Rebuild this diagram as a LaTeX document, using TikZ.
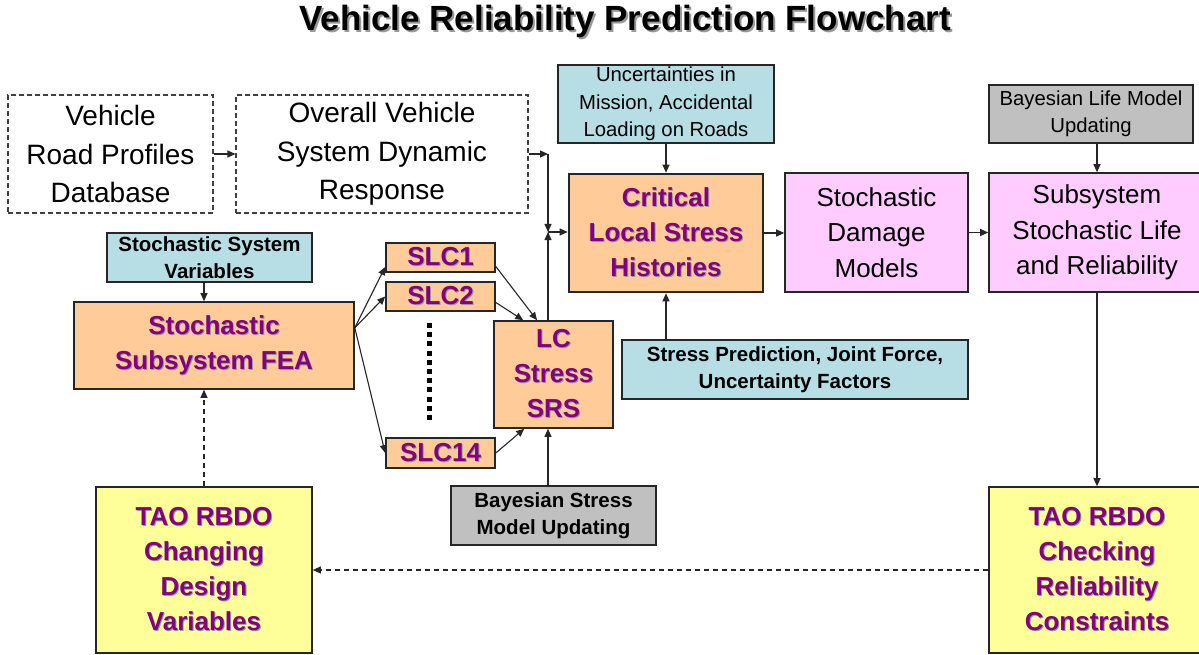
\documentclass[tikz,border=0pt]{standalone}
\usepackage{fontspec}
\setmainfont{Liberation Sans}
\usetikzlibrary{arrows.meta,calc}
\definecolor{peach}{RGB}{255,204,153}
\definecolor{cyanbox}{RGB}{183,222,228}
\definecolor{pinkbox}{RGB}{255,204,255}
\definecolor{graybox}{RGB}{192,192,192}
\definecolor{yellowbox}{RGB}{255,255,153}
\definecolor{purp}{RGB}{128,0,128}
\newcommand\shd[1]{\makebox[0pt][l]{\hspace{1pt}\raisebox{-1pt}{\textcolor{black!40}{#1}}}#1}
\newcommand\tshd[1]{\makebox[0pt][l]{\hspace{2pt}\raisebox{-2pt}{\textcolor{black!40}{#1}}}#1}
\tikzset{
  box/.style={draw=black!85, line width=1.6pt, align=center, inner sep=0pt},
  dbox/.style={draw=black!75, line width=1.1pt, dash pattern=on 5pt off 3pt, align=center, inner sep=0pt},
  arr/.style={-{Triangle[length=8pt,width=7pt]}, line width=1.1pt, draw=black!85},
  darr/.style={arr, dash pattern=on 5pt off 4pt},
  bigreg/.style={font=\fontsize{28}{38.5}\selectfont},
  midreg/.style={font=\fontsize{26}{35.5}\selectfont},
  smallreg/.style={font=\fontsize{20.3}{27.5}\selectfont},
  smallbold/.style={font=\fontsize{20.5}{27}\selectfont\bfseries},
  purptext/.style={text=purp, font=\fontsize{26}{35}\selectfont\bfseries},
}
\begin{document}
\begin{tikzpicture}[x=1pt,y=-1pt]
\fill[white] (0,0) rectangle (1199,655);
\useasboundingbox (0,0) rectangle (1199,655);

% title
\node[font=\fontsize{35}{40}\selectfont\bfseries, inner sep=0pt] (title) at (625,22) {\tshd{Vehicle Reliability Prediction Flowchart}};

% top dashed boxes
\node[dbox, bigreg, minimum width=205pt, minimum height=118pt] (vrp) at (110.5,154) {Vehicle\\Road Profiles\\Database};
\node[dbox, bigreg, minimum width=292pt, minimum height=118pt] (ovs) at (382,154) {Overall Vehicle\\System Dynamic\\Response};

% uncertainties
\node[box, fill=cyanbox, smallreg, minimum width=216pt, minimum height=78pt] (unc) at (666,104) {Uncertainties in\\Mission, Accidental\\Loading on Roads};

% critical
\node[box, fill=peach, purptext, line width=2.6pt, minimum width=194pt, minimum height=118pt] (crit) at (666,233) {\shd{Critical}\\\shd{Local Stress}\\\shd{Histories}};

% damage models
\node[box, fill=pinkbox, midreg, minimum width=183pt, minimum height=119pt] (sdm) at (876.5,232.5) {Stochastic\\Damage\\Models};

% subsystem life
\node[box, fill=pinkbox, midreg, minimum width=216pt, minimum height=119pt] (ssl) at (1097,232.5) {Subsystem\\Stochastic Life\\and Reliability};

% bayesian life
\node[box, fill=graybox, smallreg, minimum width=204pt, minimum height=58pt] (blife) at (1091,114) {Bayesian Life Model\\Updating};

% stochastic system variables
\node[box, fill=cyanbox, smallbold, minimum width=205pt, minimum height=49pt] (ssv) at (209.5,257.5) {Stochastic System\\Variables};

% FEA
\node[box, fill=peach, purptext, minimum width=280pt, minimum height=87pt] (fea) at (214,345.5) {\shd{Stochastic}\\\shd{Subsystem FEA}};

% SLC boxes
\node[box, fill=peach, purptext, minimum width=109pt, minimum height=29pt] (slc1) at (440.5,257.5) {\shd{SLC1}};
\node[box, fill=peach, purptext, minimum width=109pt, minimum height=29pt] (slc2) at (440.5,296.5) {\shd{SLC2}};
\node[box, fill=peach, purptext, minimum width=109pt, minimum height=30pt] (slc14) at (440.5,453) {\shd{SLC14}};

% LC stress SRS
\node[box, fill=peach, purptext, minimum width=119pt, minimum height=107pt] (lc) at (553.5,374.5) {\shd{LC}\\\shd{Stress}\\\shd{SRS}};

% stress prediction
\node[box, fill=cyanbox, smallbold, minimum width=346pt, minimum height=59pt] (spred) at (795,369.5) {Stress Prediction, Joint Force,\\Uncertainty Factors};

% bayesian stress
\node[box, fill=graybox, smallbold, minimum width=205pt, minimum height=59pt] (bstress) at (553.5,515.5) {Bayesian Stress\\Model Updating};

% TAO boxes
\node[box, fill=yellowbox, purptext, minimum width=216pt, minimum height=166pt] (tao1) at (204,570) {\shd{TAO RBDO}\\\shd{Changing}\\\shd{Design}\\\shd{Variables}};
\node[box, fill=yellowbox, purptext, minimum width=216pt, minimum height=166pt] (tao2) at (1097,570) {\shd{TAO RBDO}\\\shd{Checking}\\\shd{Reliability}\\\shd{Constraints}};

% dotted ellipsis
\coordinate (dtop) at (429,323);
\coordinate (dbot) at (429,422);
\draw[line width=5pt, dash pattern=on 5pt off 4.2pt] (dtop) -- (dbot);

% helper coordinates
\coordinate (c1) at (548,154);
\coordinate (J) at (548,232);
\coordinate (fs) at ($(fea.north east)!0.3!(fea.south east)$);
\coordinate (lcup) at ($(lc.north)+(-5.5,0)$);
\coordinate (lcdn) at ($(lc.south)+(-5.5,0)$);
\coordinate (bsup) at ($(bstress.north)+(-5.5,0)$);
\coordinate (blo) at ($(blife.south)+(6,0)$);
\coordinate (ssvo) at ($(ssv.south)+(-5.5,0)$);

% connectors
\draw[arr] (vrp.east) -- (ovs.west);
\draw[arr] (ovs.east) -- (c1);
\draw[arr] (c1) -- (J);
\draw[arr] (lcup) -- (J);
\draw[arr] (J) -- (J -| crit.west);
\draw[arr] (unc.south) -- (crit.north);
\draw[arr] (crit.south |- spred.north) -- (crit.south);
\draw[arr] (crit.east) -- (crit.east -| sdm.west);
\draw[arr] (sdm.east) -- (sdm.east -| ssl.west);
\draw[arr] (blo) -- (blo |- ssl.north);
\draw[arr] (ssl.south) -- (tao2.north);
\draw[darr] (tao2.west) -- (tao1.east);
\draw[darr] (tao1.north) -- (tao1.north |- fea.south);
\draw[arr] (ssvo) -- (ssvo |- fea.north);
\draw[arr] (fs) -- ($(slc1.west)+(0,9.5)$);
\draw[arr] (fs) -- (slc2.west);
\draw[arr] (fs) -- (slc14.west);
\draw[arr] ($(slc1.east)+(0,9)$) -- ($(lc.north)+(-16.5,0)$);
\draw[arr] ($(slc2.east)+(0,6)$) -- ($(lc.north west)+(30,0)$);
\draw[arr] (slc14.east) -- ($(lc.south west)+(31,0)$);
\draw[arr] (bsup) -- (lcdn);
\end{tikzpicture}
\end{document}
